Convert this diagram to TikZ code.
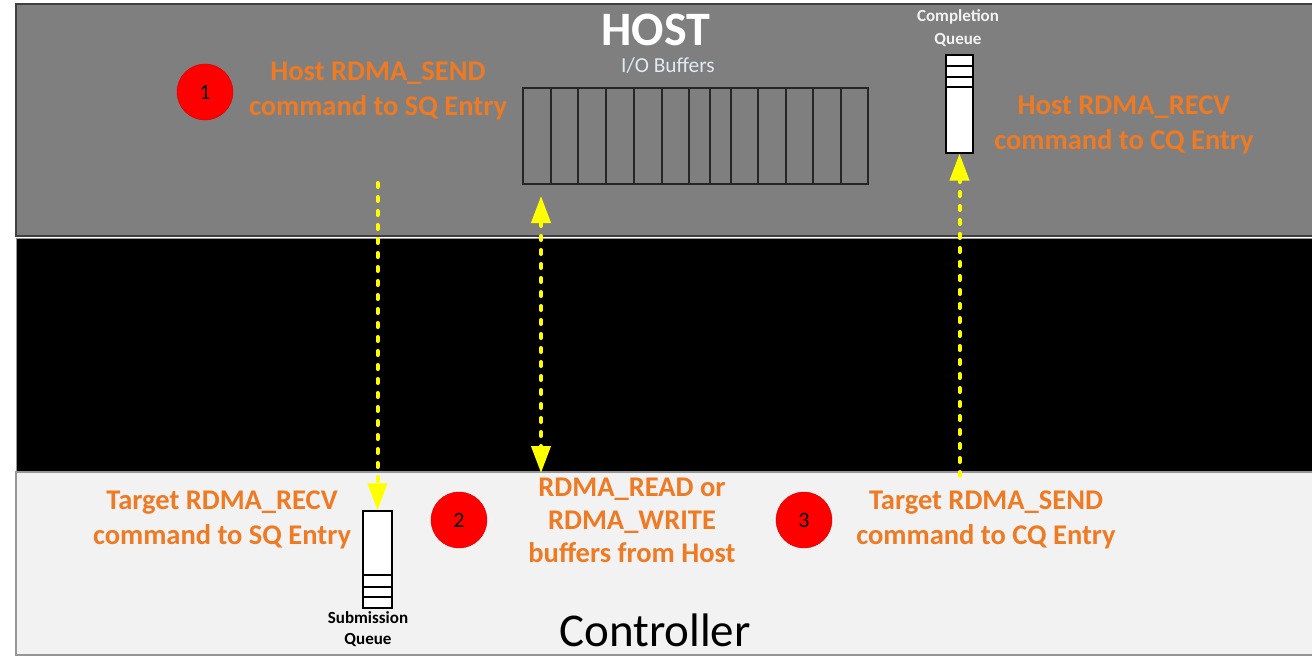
\documentclass[tikz,border=0pt]{standalone}
\usepackage{fontspec}
\setmainfont{Carlito}
\usetikzlibrary{arrows.meta}

\definecolor{hostgray}{RGB}{127,127,127}
\definecolor{ctrlgray}{RGB}{242,242,242}
\definecolor{edgedark}{RGB}{64,64,64}
\definecolor{edgelight}{RGB}{150,150,150}
\definecolor{labelorange}{RGB}{238,122,36}
\definecolor{bufferwhite}{RGB}{224,234,244}
\definecolor{flowyellow}{RGB}{255,255,0}

\tikzset{
  steplabel/.style={font=\bfseries\fontsize{28.5}{34.5}\selectfont, text=labelorange,
                    align=center, inner sep=0pt},
  stepdot/.style={circle, fill=red, draw=red!85!black, line width=0.4pt,
                  minimum size=56pt, inner sep=0pt,
                  font=\fontsize{22}{24}\selectfont, text=black},
  queuecap/.style={font=\bfseries\fontsize{17.5}{22}\selectfont, align=center, inner sep=0pt},
  slot/.style={draw=black, line width=1.2pt, fill=white, inner sep=0pt},
  flow/.style={draw=flowyellow, line width=4pt, line cap=round,
               dash pattern=on 4pt off 10pt},
  yhead/.tip={Triangle[length=27pt, width=19pt, fill=flowyellow]},
}

\begin{document}
\begin{tikzpicture}[x={(1pt,0)}, y={(0,-1pt)}]
  \useasboundingbox (0,0) rectangle (1312,656);

  % three horizontal bands: host, fabric, controller
  \fill[white] (0,0) rectangle (1312,656);
  \draw[fill=hostgray, draw=edgedark, line width=1.5pt] (16,4) rectangle (1313,236);
  \draw[fill=black, draw=edgelight, line width=1pt] (16,238) rectangle (1313,471);
  \draw[fill=ctrlgray, draw=edgelight, line width=1.5pt] (16,472) rectangle (1313,655);

  % host titles
  \node[font=\bfseries\fontsize{48}{52}\selectfont, text=white, inner sep=0pt] (host) at (656,30) {HOST};
  \node[font=\fontsize{21.4}{25}\selectfont, text=bufferwhite, inner sep=0pt] (iolabel) at (668,66) {I/O Buffers};

  % I/O buffer strip
  \node[draw=black!85, line width=1.2pt, minimum width=345pt, minimum height=96pt,
        inner sep=0pt] (iobuf) at (695.5,136) {};
  \foreach \xx in {551,578,606,634,662,689,710,731,758,786,813,841}
    \draw[line width=1.2pt, draw=black!85] (\xx,88) -- (\xx,184);

  % completion queue
  \node[queuecap, text=ctrlgray, font=\bfseries\fontsize{17}{23}\selectfont] (cqcap) at (958,28.5) {Completion\\Queue};
  \node[slot, minimum width=27pt, minimum height=98pt] (cq) at (959.5,104) {};
  \draw[line width=1.2pt] (946,66) -- (973,66) (946,77) -- (973,77) (946,87) -- (973,87);

  % submission queue
  \node[slot, minimum width=29pt, minimum height=97pt] (sq) at (377.5,559.5) {};
  \draw[line width=1.2pt] (363,575) -- (392,575) (363,587) -- (392,587) (363,597) -- (392,597);
  \node[queuecap, text=black, font=\bfseries\fontsize{17}{21}\selectfont] (sqcap) at (368,629) {Submission\\Queue};

  % numbered steps
  \node[stepdot] (s1) at (205,92) {1};
  \node[stepdot] (s2) at (459,520) {2};
  \node[stepdot] (s3) at (804,520) {3};

  % step descriptions
  \node[steplabel] (hsend) at (378,91) {Host RDMA\_SEND\\command to SQ Entry};
  \node[steplabel] (hrecv) at (1124,125) {Host RDMA\_RECV\\command to CQ Entry};
  \node[steplabel] (trecv) at (222,520) {Target RDMA\_RECV\\command to SQ Entry};
  \node[steplabel, font=\bfseries\fontsize{28.5}{33}\selectfont] (rw) at (632,520) {RDMA\_READ or\\RDMA\_WRITE\\buffers from Host};
  \node[steplabel] (tsend) at (986,520) {Target RDMA\_SEND\\command to CQ Entry};

  % controller title
  \node[font=\fontsize{47}{50}\selectfont, text=black, inner sep=0pt, anchor=base] (ctrl) at (655,646) {Controller};

  % transfer paths
  \coordinate (sendstart) at (377.5,183);
  \coordinate (rwtop) at (541,196);
  \coordinate (rwbot) at (541,473);
  \coordinate (cqstart) at (959.5,476);

  \draw[flow, -yhead] (sendstart) -- (sq.north);
  \draw[flow, yhead-yhead] (rwtop) -- (rwbot);
  \draw[flow, -yhead] (cqstart) -- (cq.south);
\end{tikzpicture}
\end{document}
